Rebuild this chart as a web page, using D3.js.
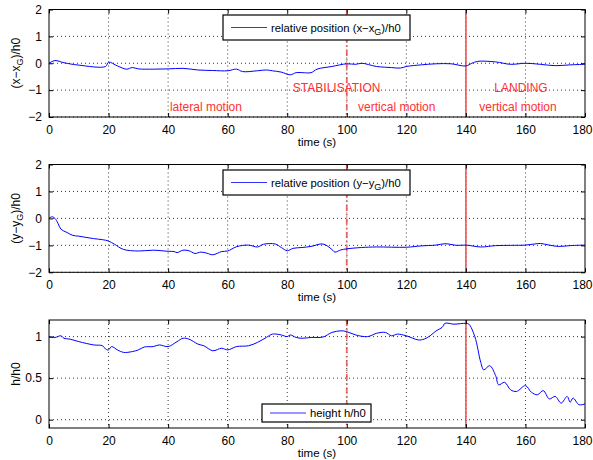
<!DOCTYPE html>
<html>
<head>
<meta charset="utf-8">
<script src="https://cdn.jsdelivr.net/npm/d3@7"></script>
<style>
  body { margin: 0; background: #fff; }
  svg { font-family: "Liberation Sans", Arial, sans-serif; }
  .tick text { font-size: 12px; fill: #000; }
  .grid line { stroke: #000; stroke-dasharray: 1,3; stroke-width: 0.8; }
</style>
</head>
<body>
<div id="chart"></div>
<script>
// time ticks
const timeTicks = [0, 20, 40, 60, 80, 100, 120, 140, 160, 180];

// relative position (x - xG)/h0
const tX = [0, 2, 5, 10, 19, 20, 23, 26, 28, 30, 35, 40, 45, 50, 55, 60, 63, 65, 70, 73, 75, 78, 81, 83, 85, 88, 90, 95, 100, 103, 105, 110, 115, 118, 120, 125, 130, 135, 140, 142, 144, 150, 155, 160, 165, 170, 175, 180];
const vX = [0, 0.1, 0.02, -0.07, -0.12, 0.04, -0.1, -0.22, -0.16, -0.21, -0.22, -0.21, -0.19, -0.25, -0.27, -0.28, -0.22, -0.31, -0.28, -0.25, -0.28, -0.33, -0.43, -0.35, -0.35, -0.35, -0.22, -0.12, -0.02, -0.04, 0, -0.12, -0.16, -0.18, -0.12, -0.06, -0.02, -0.02, -0.1, 0, 0.07, 0.05, -0.04, 0, -0.04, -0.09, -0.06, -0.04];

// relative position (y - yG)/h0
const tY = [0, 1, 2, 3, 4, 6, 8, 10, 15, 18, 20, 22, 25, 30, 35, 40, 42, 43, 45, 47, 49, 51, 53, 55, 58, 60, 63, 67, 70, 72, 76, 78, 80, 82, 85, 88, 92, 95, 96, 98, 100, 105, 110, 120, 125, 130, 133, 137, 140, 145, 150, 155, 160, 163, 165, 168, 171, 175, 180];
const vY = [0, 0.06, 0, -0.18, -0.4, -0.52, -0.63, -0.66, -0.75, -0.79, -0.84, -0.96, -1.15, -1.21, -1.18, -1.22, -1.23, -1.27, -1.18, -1.2, -1.3, -1.25, -1.29, -1.35, -1.23, -1.21, -1.05, -0.99, -1.06, -0.96, -0.95, -1.08, -1.2, -1.11, -1.08, -1.04, -0.95, -1.15, -1.25, -1.17, -1.13, -1.08, -1.06, -1.07, -1.02, -0.99, -0.94, -1.0, -0.99, -1.06, -1.01, -1.0, -0.99, -0.95, -0.93, -0.99, -1.04, -1.01, -0.99];

// height h/h0
const tH = [0, 2, 4, 5, 7, 10, 15, 18, 19, 20, 21, 23, 25, 28, 30, 32, 35, 37, 40, 43, 45, 47, 50, 52, 55, 58, 60, 63, 67, 70, 73, 75, 78, 80, 81, 83, 85, 88, 92, 95, 98, 100, 103, 107, 110, 113, 115, 117, 120, 124, 126, 128, 130, 132, 133, 136, 140, 141, 143, 145, 146, 148, 150, 151, 153, 155, 157, 160, 162, 164, 166, 168, 170, 172, 174, 175, 176, 178, 180];
const vH = [1.0, 0.99, 1.01, 0.98, 0.97, 0.94, 0.9, 0.89, 0.85, 0.84, 0.88, 0.84, 0.81, 0.82, 0.84, 0.875, 0.88, 0.9, 0.88, 0.94, 0.98, 0.97, 0.91, 0.89, 0.83, 0.86, 0.84, 0.88, 0.89, 0.93, 0.99, 1.03, 1.02, 1.0, 1.02, 0.99, 0.98, 0.99, 0.995, 1.05, 1.07, 1.06, 1.02, 1.0, 1.04, 1.05, 1.01, 1.03, 1.01, 0.96, 0.97, 1.01, 1.07, 1.11, 1.16, 1.15, 1.16, 1.15, 1.0, 0.69, 0.6, 0.65, 0.53, 0.42, 0.45, 0.36, 0.34, 0.41, 0.33, 0.3, 0.35, 0.25, 0.28, 0.2, 0.28, 0.21, 0.26, 0.18, 0.19];

const width = 593, height = 460;
const left = 49, right = 585;

const svg = d3.select("#chart").append("svg")
    .attr("width", width)
    .attr("height", height);

const x = d3.scaleLinear().domain([0, 180]).range([left, right]);

const fmt = d => d3.format("")(d).replace("-", "\u2212");

function panel(opts) {
    const y = d3.scaleLinear().domain(opts.domain).range([opts.bottom, opts.top]);
    const g = svg.append("g");

    // grid
    g.append("g").attr("class", "grid")
        .selectAll("line.v").data(timeTicks.slice(1, -1)).join("line")
        .attr("x1", d => x(d)).attr("x2", d => x(d))
        .attr("y1", opts.top).attr("y2", opts.bottom);
    g.append("g").attr("class", "grid")
        .selectAll("line.h").data(opts.ticks).join("line")
        .attr("x1", left).attr("x2", right)
        .attr("y1", d => y(d)).attr("y2", d => y(d));

    // phase markers
    g.append("line")
        .attr("x1", x(100)).attr("x2", x(100))
        .attr("y1", opts.top).attr("y2", opts.bottom)
        .attr("stroke", "#ee4444").attr("stroke-opacity", 0.8).attr("stroke-width", 1.8)
        .attr("stroke-dasharray", "6,3,1.5,3");
    g.append("line")
        .attr("x1", x(140)).attr("x2", x(140))
        .attr("y1", opts.top).attr("y2", opts.bottom)
        .attr("stroke", "#ee4444").attr("stroke-opacity", 0.8).attr("stroke-width", 1.8);

    // series
    const line = d3.line().x((d, i) => x(opts.t[i])).y(d => y(d)).curve(d3.curveCatmullRom);
    g.append("path").datum(opts.v)
        .attr("fill", "none").attr("stroke", "#0000ff").attr("stroke-width", 1)
        .attr("d", line);

    // axes with inward ticks (box)
    const xb = g.append("g").attr("transform", `translate(0,${opts.bottom})`)
        .call(d3.axisBottom(x).tickValues(timeTicks).tickSizeInner(-4).tickSizeOuter(0).tickPadding(8).tickFormat(fmt));
    // keep the last label inside the page
    xb.selectAll(".tick text").filter(d => d === 180).attr("dx", -3);
    g.append("g").attr("transform", `translate(0,${opts.top})`)
        .call(d3.axisTop(x).tickValues(timeTicks).tickSizeInner(-4).tickSizeOuter(0).tickFormat(""));
    g.append("g").attr("transform", `translate(${left},0)`)
        .call(d3.axisLeft(y).tickValues(opts.ticks).tickSizeInner(-4).tickSizeOuter(0).tickPadding(7).tickFormat(fmt));
    g.append("g").attr("transform", `translate(${right},0)`)
        .call(d3.axisRight(y).tickValues(opts.ticks).tickSizeInner(-4).tickSizeOuter(0).tickFormat(""));
    g.selectAll(".domain").remove();
    g.append("rect")
        .attr("x", left).attr("y", opts.top)
        .attr("width", right - left).attr("height", opts.bottom - opts.top)
        .attr("fill", "none").attr("stroke", "#000").attr("stroke-width", 1);

    // x label
    g.append("text")
        .attr("x", x(90)).attr("y", opts.bottom + 28.5)
        .attr("text-anchor", "middle").attr("font-size", 11.5)
        .text("time (s)");

    // y label
    const yl = g.append("text")
        .attr("transform", `translate(20,${(opts.top + opts.bottom) / 2}) rotate(-90)`)
        .attr("text-anchor", "middle").attr("font-size", 12);
    opts.ylabel(yl);

    // legend
    const lg = g.append("g");
    lg.append("rect")
        .attr("x", opts.legend.x).attr("y", opts.legend.y)
        .attr("width", opts.legend.w).attr("height", opts.legend.h)
        .attr("fill", "#fff").attr("stroke", "#000").attr("stroke-width", 1.2);
    const ly = opts.legend.y + opts.legend.h / 2;
    lg.append("line")
        .attr("x1", opts.legend.x + 8).attr("x2", opts.legend.x + 44)
        .attr("y1", ly).attr("y2", ly)
        .attr("stroke", "#3333ff").attr("stroke-width", 1.2);
    const lt = lg.append("text")
        .attr("x", opts.legend.x + 48).attr("y", ly + 4)
        .attr("font-size", 11.3);
    opts.legendText(lt);

    return { g, y };
}

function subLabel(el, pre, sub, post) {
    el.append("tspan").text(pre);
    el.append("tspan").attr("font-size", 9).attr("dy", 3).text(sub);
    el.append("tspan").attr("dy", -3).text(post);
}

const p1 = panel({
    top: 9.5, bottom: 117, domain: [-2, 2], ticks: [-2, -1, 0, 1, 2],
    t: tX, v: vX,
    ylabel: el => subLabel(el, "(x\u2212x", "G", ")/h0"),
    legend: { x: 223, y: 15, w: 187, h: 25 },
    legendText: el => subLabel(el, "relative position (x\u2212x", "G", ")/h0")
});

const p2 = panel({
    top: 164.5, bottom: 272.3, domain: [-2, 2], ticks: [-2, -1, 0, 1, 2],
    t: tY, v: vY,
    ylabel: el => subLabel(el, "(y\u2212y", "G", ")/h0"),
    legend: { x: 223, y: 170, w: 187, h: 25 },
    legendText: el => subLabel(el, "relative position (y\u2212y", "G", ")/h0")
});

const p3 = panel({
    top: 320, bottom: 428, domain: [-0.1, 1.2], ticks: [0, 0.5, 1],
    t: tH, v: vH,
    ylabel: el => el.text("h/h0"),
    legend: { x: 262, y: 404, w: 109, h: 18 },
    legendText: el => el.text("height h/h0")
});

// phase annotations in the top panel
const notes = [
    { t: 52.7, v: -1.63, text: "lateral motion" },
    { t: 96.6, v: -0.92, text: "STABILISATION" },
    { t: 116.8, v: -1.63, text: "vertical motion" },
    { t: 158.5, v: -0.92, text: "LANDING" },
    { t: 157.5, v: -1.63, text: "vertical motion" }
];
p1.g.selectAll("text.note").data(notes).join("text")
    .attr("class", "note")
    .attr("x", d => x(d.t)).attr("y", d => p1.y(d.v) + 4)
    .attr("text-anchor", "middle").attr("font-size", 12)
    .attr("fill", "#ff3030")
    .text(d => d.text);
</script>
</body>
</html>
